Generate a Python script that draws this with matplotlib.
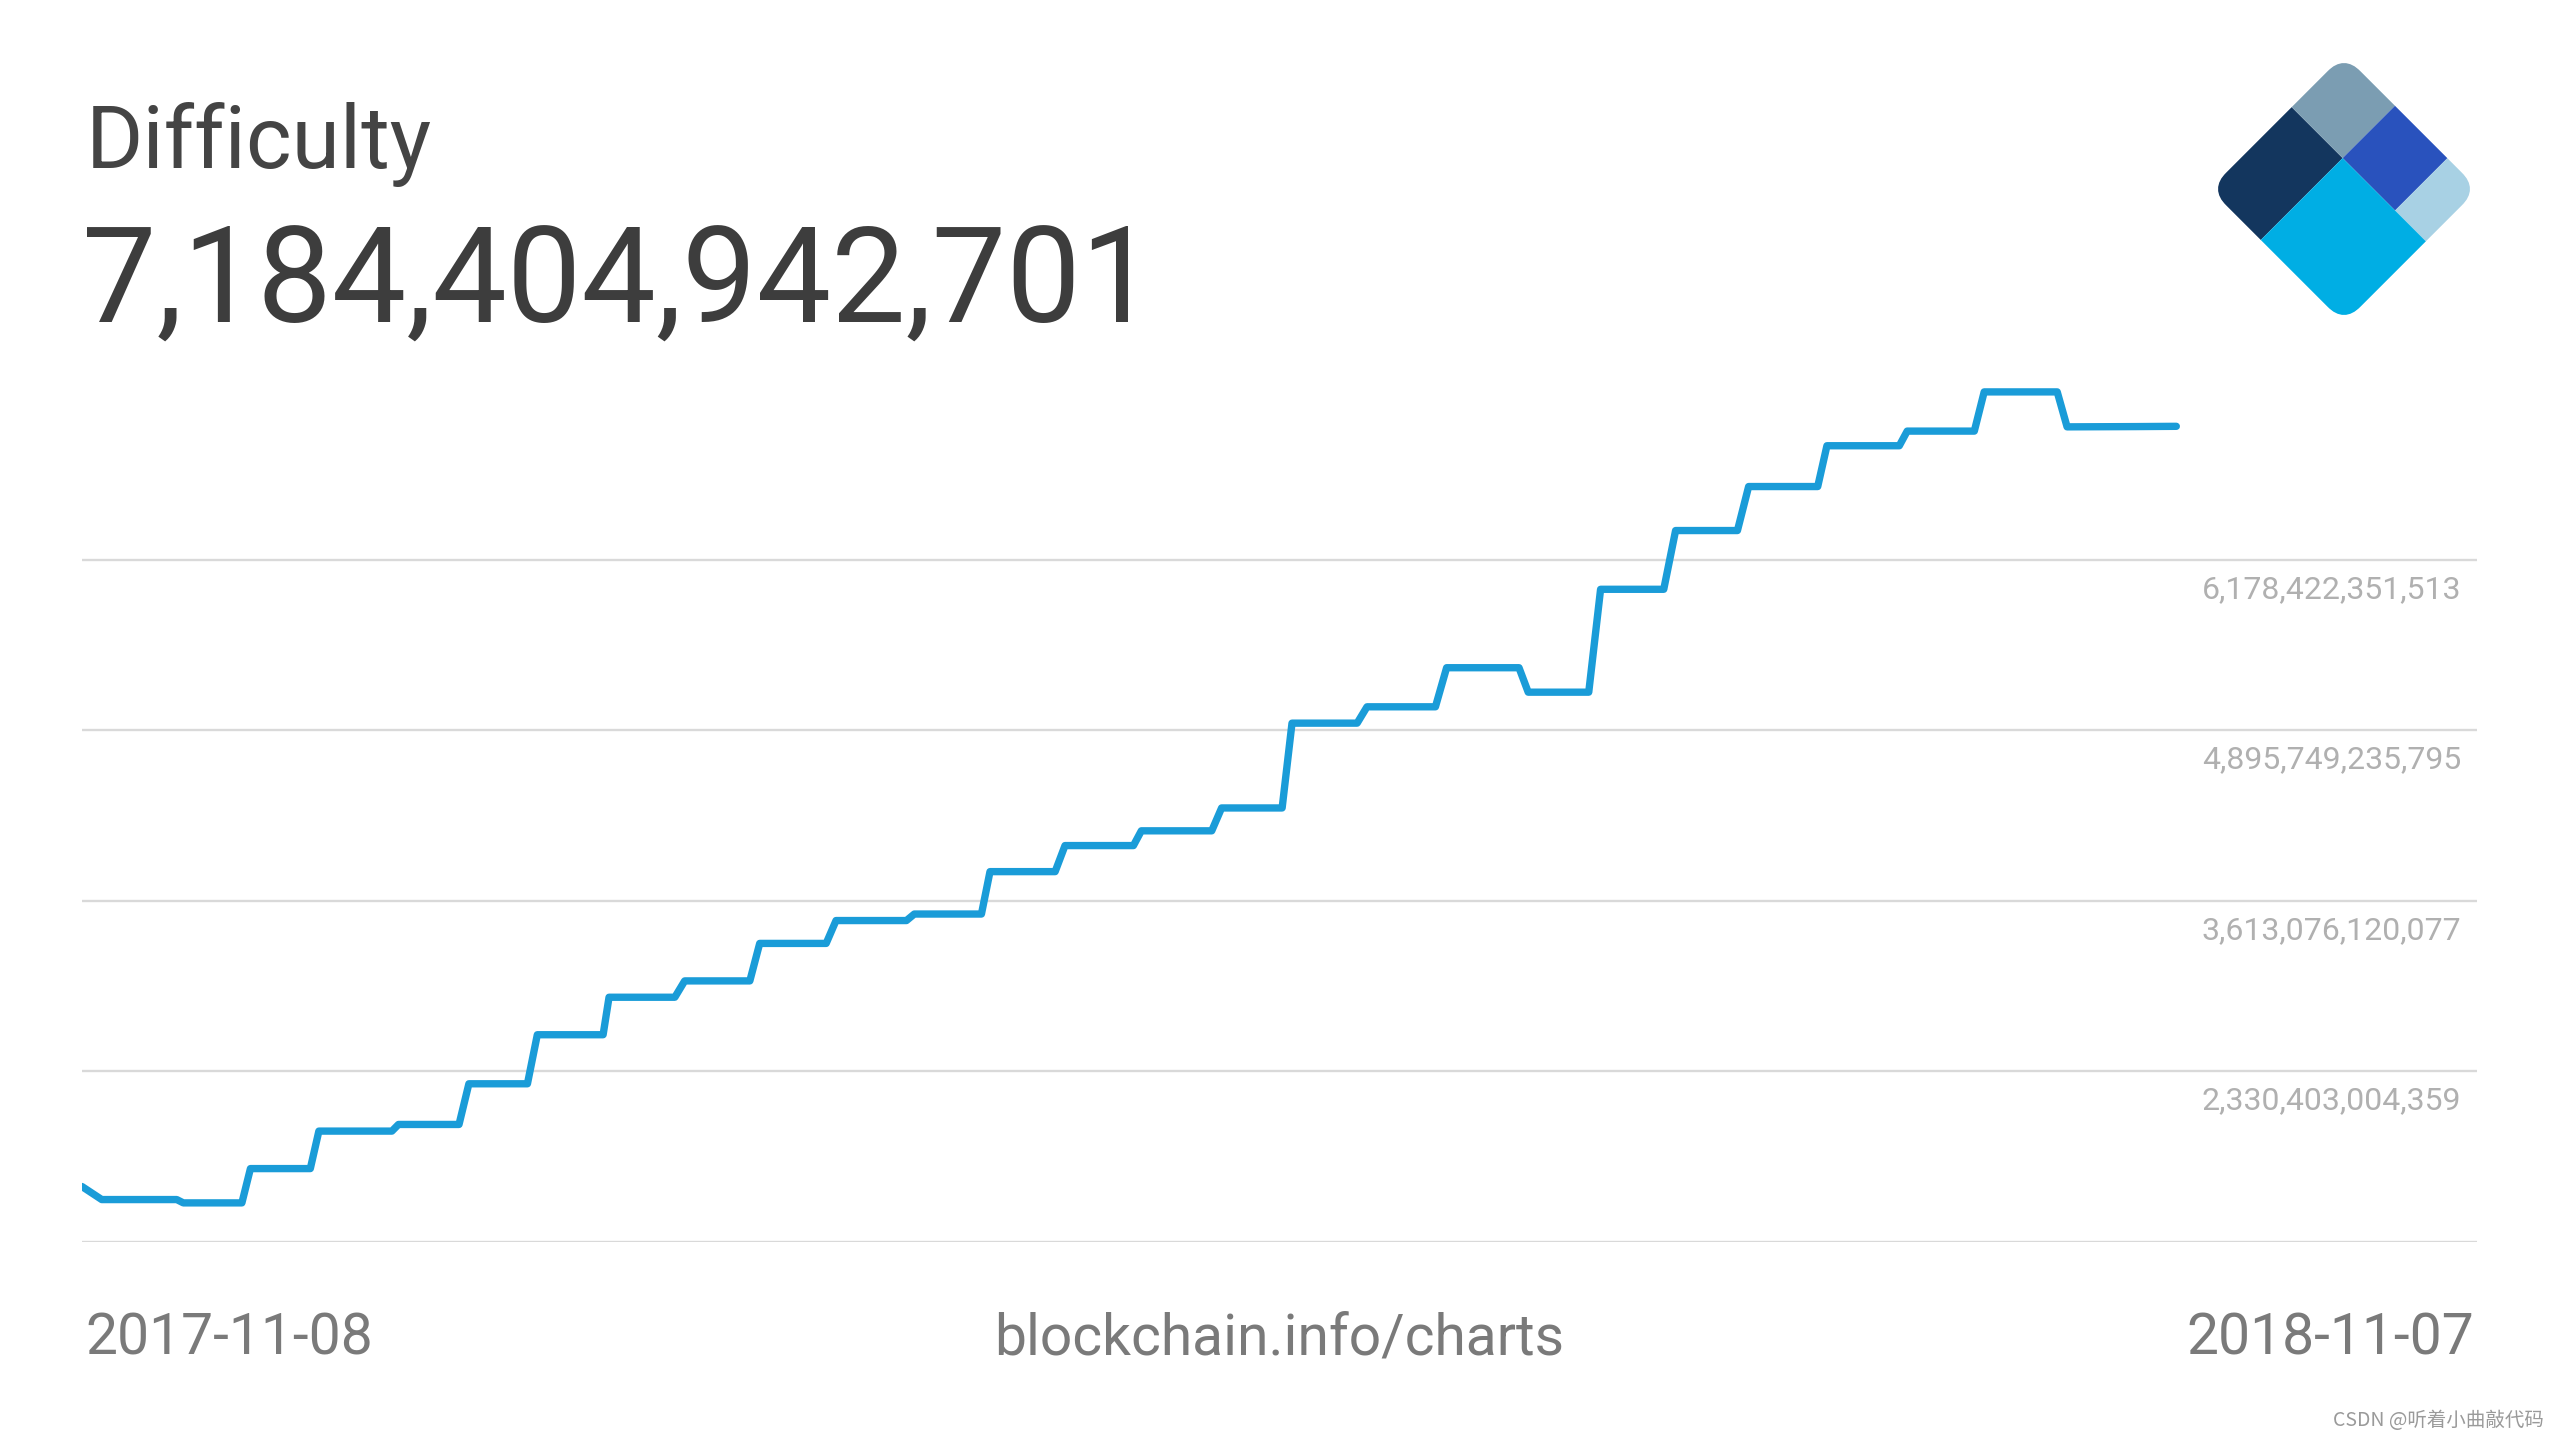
import numpy as np
import matplotlib
matplotlib.use("Agg")
import matplotlib.pyplot as plt
import matplotlib.dates as mdates
from matplotlib.patches import Rectangle, FancyBboxPatch
from matplotlib.transforms import Affine2D

plt.rcParams['font.family'] = ['Roboto', 'DejaVu Sans']

# chart data
start_date = '2017-11-08'
end_date = '2018-11-07'
current_value = '7,184,404,942,701'
# days after start_date, difficulty in trillions
days = [0, 3, 14.4, 15.4, 24.3, 25.6, 34.7, 36, 47.1, 48.1, 57.3, 58.8, 67.7, 69.2,
        79.2, 80.1, 90.1, 91.6, 101.5, 103, 113.1, 114.6, 125.3, 126.5, 136.7, 138,
        147.9, 149.4, 159.8, 161, 171.7, 173.2, 182.4, 183.9, 193.8, 195.3, 205.7,
        207.4, 218.4, 219.8, 229, 230.8, 240.4, 242.2, 251.6, 253.3, 263.8, 265.2,
        276.2, 277.4, 287.6, 289.1, 300.2, 301.7, 312, 318.3]
difficulty_t = [1.465, 1.367, 1.367, 1.342, 1.342, 1.600, 1.600, 1.882, 1.882, 1.932,
                1.932, 2.238, 2.238, 2.607, 2.607, 2.889, 2.889, 3.012, 3.012, 3.294,
                3.294, 3.466, 3.466, 3.515, 3.515, 3.834, 3.834, 4.030, 4.030, 4.141,
                4.141, 4.313, 4.313, 4.951, 4.951, 5.074, 5.074, 5.368, 5.368, 5.184,
                5.184, 5.958, 5.958, 6.400, 6.400, 6.731, 6.731, 7.038, 7.038, 7.148,
                7.148, 7.443, 7.443, 7.180, 7.182, 7.184]
grid_values = [1047729888641, 2330403004359, 3613076120077, 4895749235795, 6178422351513]

W, H = 2560, 1440
fig = plt.figure(figsize=(W / 100, H / 100), dpi=100)
fig.patch.set_facecolor('white')

# main plot area
ax = fig.add_axes([82 / W, 1 - 1242 / H, (2477 - 82) / W, (1242 - 380) / H])
x0 = mdates.datestr2num(start_date)
x1 = mdates.datestr2num(end_date)
xs = x0 + np.array(days)
ys = np.array(difficulty_t) * 1e12
ax.set_xlim(x0, x1)
ax.set_ylim(grid_values[0], 7.5325e12)
for g in grid_values:
    ax.axhline(g, color='#d9d9d9', lw=1.7, zorder=1)
for g in grid_values[1:]:
    ax.annotate(f'{g:,}', xy=(1, g), xycoords=('axes fraction', 'data'),
                xytext=(-11.5, -21), textcoords='offset points',
                ha='right', va='center', fontsize=23, color='#b0b0b0')
ax.plot(xs, ys, color='#1a9cd8', lw=5.3, solid_joinstyle='round',
        solid_capstyle='round', zorder=3)
ax.axis('off')

# header text
fig.text(86 / W, 1 - 168 / H, 'Difficulty', fontsize=63, color='#444444',
         ha='left', va='baseline')
fig.text(82 / W, 1 - 323 / H, current_value, fontsize=95.5, color='#3d3d3d',
         ha='left', va='baseline')

# footer text
fig.text(85 / W, 1 - 1339 / H, start_date, fontsize=41, color='#7a7a7a',
         ha='left', va='center')
fig.text(1279 / W, 1 - 1339 / H, 'blockchain.info/charts', fontsize=41,
         color='#7a7a7a', ha='center', va='center')
fig.text(2474 / W, 1 - 1339 / H, end_date, fontsize=41, color='#7a7a7a',
         ha='right', va='center')

fig.text(2544 / W, 1 - 1421 / H, 'CSDN @听着小曲敲代码', fontsize=14, color='#9a9a9a',
         ha='right', va='center', family=['Noto Sans CJK SC', 'DejaVu Sans'])

# logo: rotated square split in five blocks
lax = fig.add_axes([(2344 - 140) / W, 1 - (189 + 140) / H, 280 / W, 280 / H])
lax.set_xlim(-1, 1)
lax.set_ylim(-1, 1)
lax.set_aspect('equal')
lax.axis('off')
half = 0.96
side = 2 * half / np.sqrt(2)
rot = Affine2D().translate(0, -side).rotate_deg(45).translate(-half, 0) + lax.transData
clip = FancyBboxPatch((0, 0), side, side, boxstyle='round,pad=0,rounding_size=0.17',
                      transform=rot, facecolor='none', edgecolor='none')
lax.add_patch(clip)
# (a0, a1, b0, b1, colour); a runs left->top, b runs left->bottom
blocks = [(0, 0.61, 0, 0.38, '#13365e'),
          (0.61, 1, 0, 0.38, '#7b9db2'),
          (0.61, 1, 0.38, 0.77, '#2952bd'),
          (0.61, 1, 0.77, 1, '#a8d1e4'),
          (0, 0.61, 0.38, 1, '#00aee4')]
for a0, a1, b0, b1, c in blocks:
    r = Rectangle((a0 * side, side - b1 * side), (a1 - a0) * side, (b1 - b0) * side,
                  transform=rot, facecolor=c, edgecolor='none')
    lax.add_patch(r)
    r.set_clip_path(clip)

fig.savefig('out.png', dpi=100, facecolor='white')
